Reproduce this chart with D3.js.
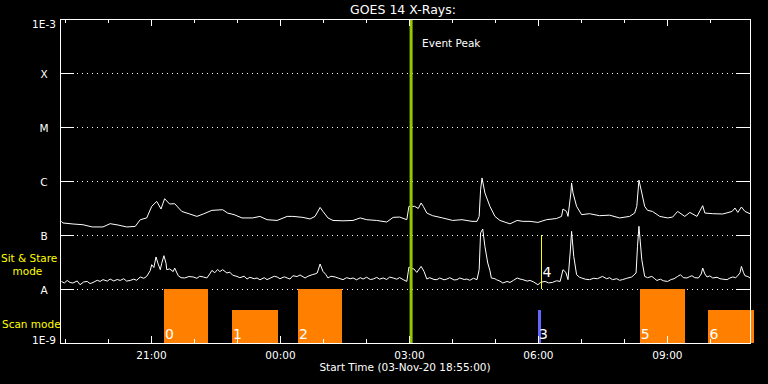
<!DOCTYPE html>
<html>
<head>
<meta charset="utf-8">
<script src="https://cdn.jsdelivr.net/npm/d3@7"></script>
<style>
  html, body { margin: 0; padding: 0; background: #000; }
  svg { display: block; }
</style>
</head>
<body>
<svg id="chart" width="768" height="384"></svg>
<script>
// GOES 14 x-ray flux, times are minutes after the start time (03-Nov-20 18:55)
var startTime = new Date(2020, 10, 3, 18, 55, 0);

// long channel (upper curve)
var upperTimes = [0, 2, 16, 30, 43, 58, 68, 79, 91, 103, 110, 119, 126, 133, 139, 144, 151, 158, 168, 179,
  189, 198, 210, 225, 232, 241, 252, 267, 277, 287, 301, 315, 323, 337, 347, 354, 361, 365, 372, 379,
  393, 407, 417, 426, 440, 454, 463, 472, 482, 485, 493, 498, 502, 505, 510, 518, 532, 546, 559, 573,
  580, 583, 585, 587, 591, 598, 605, 612, 626, 636, 644, 654, 665, 677, 691, 698, 700, 705, 707, 711,
  712, 714, 719, 726, 737, 751, 765, 779, 793, 800, 803, 806, 810, 814, 818, 825, 835, 846, 853, 860,
  870, 877, 887, 895, 898, 909, 923, 936, 940, 944, 949, 954, 961];
var upperFlux = [1.79e-7, 1.67e-7, 1.6e-7, 1.55e-7, 1.41e-7, 1.41e-7, 1.62e-7, 1.53e-7, 1.41e-7, 1.44e-7,
  1.92e-7, 2.07e-7, 3.39e-7, 4.19e-7, 3.03e-7, 4.7e-7, 3.75e-7, 3.8e-7, 2.73e-7, 2.45e-7,
  2.21e-7, 2.45e-7, 2.86e-7, 2.94e-7, 2.55e-7, 2.38e-7, 2.07e-7, 2.07e-7, 2.21e-7, 1.92e-7,
  1.86e-7, 2.21e-7, 2.21e-7, 2.12e-7, 1.98e-7, 2.21e-7, 3.24e-7, 2.73e-7, 2.07e-7, 1.86e-7,
  1.83e-7, 1.86e-7, 2.07e-7, 1.92e-7, 1.86e-7, 1.74e-7, 2.12e-7, 2.15e-7, 1.92e-7, 3.39e-7,
  3.39e-7, 3.1e-7, 3.92e-7, 3.39e-7, 2.55e-7, 2.28e-7, 2.07e-7, 1.86e-7, 1.92e-7, 1.79e-7,
  1.79e-7, 2.21e-7, 6.9e-7, 1.14e-6, 6.0e-7, 3.39e-7, 2.21e-7, 1.86e-7, 1.61e-7, 1.86e-7,
  1.79e-7, 1.79e-7, 1.71e-7, 1.92e-7, 2.02e-7, 2.21e-7, 3.03e-7, 2.73e-7, 2.21e-7, 6.0e-7,
  9.2e-7, 6.0e-7, 3.39e-7, 2.38e-7, 2.48e-7, 2.28e-7, 2.33e-7, 2.07e-7, 2.21e-7, 2.55e-7,
  3.39e-7, 1.04e-6, 6.0e-7, 3.39e-7, 2.86e-7, 2.73e-7, 2.21e-7, 2.07e-7, 2.15e-7, 2.73e-7,
  2.21e-7, 2.62e-7, 2.21e-7, 3.49e-7, 2.55e-7, 2.48e-7, 2.45e-7, 2.73e-7, 3.16e-7, 2.62e-7,
  3.3e-7, 2.73e-7, 2.48e-7];

// short channel (lower curve)
var lowerTimes = [0, 4, 8, 12, 16, 22, 26, 31, 36, 40, 44, 50, 54, 58, 64, 68, 73, 78, 82, 87,
  91, 96, 101, 105, 110, 115, 119, 124, 126, 129, 132, 135, 138, 140, 143, 146, 147, 151, 156, 158,
  163, 167, 172, 178, 184, 189, 193, 198, 203, 207, 210, 214, 218, 221, 225, 231, 235, 239, 245, 249,
  255, 259, 263, 269, 273, 277, 283, 287, 291, 297, 301, 305, 311, 315, 319, 323, 329, 333, 340, 344,
  350, 354, 357, 361, 365, 369, 372, 376, 382, 387, 393, 398, 403, 407, 412, 417, 421, 426, 431, 435,
  440, 444, 449, 454, 458, 463, 468, 472, 477, 482, 485, 489, 492, 496, 502, 506, 510, 514, 520, 524,
  528, 534, 538, 542, 548, 552, 556, 562, 566, 570, 575, 580, 583, 585, 588, 591, 595, 598, 600, 605,
  607, 612, 616, 622, 626, 631, 636, 640, 644, 650, 654, 659, 665, 669, 675, 680, 685, 691, 696, 700,
  704, 707, 710, 712, 715, 719, 723, 726, 731, 737, 743, 748, 755, 761, 765, 769, 775, 779, 783, 789,
  796, 802, 804, 806, 810, 814, 818, 824, 828, 831, 836, 840, 846, 851, 855, 860, 864, 868, 873, 877,
  880, 884, 889, 893, 895, 898, 901, 905, 909, 915, 919, 923, 929, 933, 937, 941, 944, 947, 949, 952,
  954, 958, 961];
var lowerFlux = [1.38e-8, 1.29e-8, 1.44e-8, 1.32e-8, 1.29e-8, 1.41e-8, 1.2e-8, 1.35e-8, 1.38e-8, 1.26e-8,
  1.32e-8, 1.45e-8, 1.38e-8, 1.49e-8, 1.4e-8, 1.53e-8, 1.41e-8, 1.5e-8, 1.44e-8, 1.55e-8,
  1.4e-8, 1.44e-8, 1.52e-8, 1.45e-8, 1.67e-8, 1.58e-8, 1.71e-8, 2.2e-8, 2.82e-8, 2.5e-8,
  3.92e-8, 2.9e-8, 2.28e-8, 3.0e-8, 4.14e-8, 3.0e-8, 2.28e-8, 2.35e-8, 2.1e-8, 2.45e-8,
  1.76e-8, 1.62e-8, 1.6e-8, 1.7e-8, 1.67e-8, 1.58e-8, 1.72e-8, 1.67e-8, 1.6e-8, 1.9e-8,
  2.21e-8, 2.0e-8, 2.3e-8, 2.1e-8, 2.28e-8, 1.98e-8, 2.05e-8, 1.8e-8, 1.71e-8, 1.62e-8,
  1.72e-8, 1.53e-8, 1.65e-8, 1.55e-8, 1.6e-8, 1.48e-8, 1.62e-8, 1.49e-8, 1.58e-8, 1.72e-8,
  1.67e-8, 1.55e-8, 1.68e-8, 1.6e-8, 1.53e-8, 1.76e-8, 1.7e-8, 1.82e-8, 1.6e-8, 1.72e-8,
  1.84e-8, 1.9e-8, 1.98e-8, 2.9e-8, 2.12e-8, 1.85e-8, 1.6e-8, 1.72e-8, 1.67e-8, 1.58e-8,
  1.49e-8, 1.62e-8, 1.55e-8, 1.6e-8, 1.48e-8, 1.62e-8, 1.53e-8, 1.65e-8, 1.5e-8, 1.53e-8,
  1.64e-8, 1.52e-8, 1.6e-8, 1.5e-8, 1.66e-8, 1.6e-8, 1.52e-8, 1.63e-8, 1.49e-8, 1.38e-8,
  2.55e-8, 2.4e-8, 2.35e-8, 2.03e-8, 2.62e-8, 2.12e-8, 1.53e-8, 1.62e-8, 1.5e-8, 1.49e-8,
  1.6e-8, 1.48e-8, 1.53e-8, 1.62e-8, 1.47e-8, 1.49e-8, 1.6e-8, 1.5e-8, 1.53e-8, 1.45e-8,
  1.58e-8, 1.49e-8, 2.28e-8, 1.09e-7, 1.29e-7, 6.15e-8, 3.03e-8, 2.2e-8, 1.6e-8, 1.55e-8,
  1.49e-8, 1.4e-8, 1.29e-8, 1.38e-8, 1.32e-8, 1.45e-8, 1.6e-8, 1.53e-8, 1.49e-8, 1.4e-8,
  1.44e-8, 1.35e-8, 1.2e-8, 1.33e-8, 1.38e-8, 1.3e-8, 1.32e-8, 1.42e-8, 1.38e-8, 2.28e-8,
  2.03e-8, 1.49e-8, 4.64e-8, 1.17e-7, 4.02e-8, 1.84e-8, 1.65e-8, 1.6e-8, 1.52e-8, 1.49e-8,
  1.58e-8, 1.55e-8, 1.71e-8, 1.55e-8, 1.62e-8, 1.49e-8, 1.55e-8, 1.45e-8, 1.49e-8, 1.58e-8,
  1.67e-8, 1.98e-8, 6.15e-8, 1.45e-7, 3.49e-8, 1.71e-8, 1.62e-8, 1.71e-8, 1.55e-8, 1.44e-8,
  1.52e-8, 1.42e-8, 1.38e-8, 1.5e-8, 1.55e-8, 1.71e-8, 1.84e-8, 1.62e-8, 1.6e-8, 1.7e-8,
  1.76e-8, 1.62e-8, 1.6e-8, 1.9e-8, 2.45e-8, 1.9e-8, 1.67e-8, 1.75e-8, 1.6e-8, 1.65e-8,
  1.55e-8, 1.52e-8, 1.49e-8, 1.6e-8, 1.67e-8, 1.62e-8, 1.76e-8, 2.0e-8, 2.62e-8, 2.0e-8,
  1.76e-8, 1.7e-8, 1.6e-8];

// observation blocks
var obsLabels = ['0', '1', '2', '3', '4', '5', '6'];
var obsKind = ['box', 'box', 'box', 'mark', 'line', 'box', 'box'];
var obsStart = [143, 238, 330, 665, 670, 807, 903];
var obsEnd = [205, 302, 391, 669, 670, 870, 966];
var obsLow = [1e-9, 1e-9, 1e-9, 1e-9, 1e-8, 1e-9, 1e-9];
var obsHigh = [1e-8, 4.1e-9, 1e-8, 4.1e-9, 1e-7, 1e-8, 4.1e-9];

var eventPeak = 488;

var yTickValues = [1e-9, 1e-8, 1e-7, 1e-6, 1e-5, 1e-4, 1e-3];
var yTickLabels = ['1E-9', 'A', 'B', 'C', 'M', 'X', '1E-3'];
var gridLevels = [1e-8, 1e-7, 1e-6, 1e-5, 1e-4];

var timeDomain = [-2, 961];

function atMinute(m) {
    return new Date(startTime.getTime() + m * 60000);
}

document.addEventListener('DOMContentLoaded', function () {
    drawChart();
});

function drawChart() {
    const svg = d3.select('#chart');
    const font = 'DejaVu Sans';

    svg.append('rect').attr('width', 768).attr('height', 384).attr('fill', '#000');

    const xScale = d3.scaleTime()
        .domain(timeDomain.map(atMinute))
        .range([60, 750]);
    const yScale = d3.scaleLog()
        .domain([1e-9, 1e-3])
        .range([343, 19]);

    // dotted grid at each flare class
    svg.append('g').selectAll('line')
        .data(gridLevels)
        .join('line')
        .attr('x1', 62).attr('x2', 736)
        .attr('y1', d => Math.round(yScale(d)) + 0.5)
        .attr('y2', d => Math.round(yScale(d)) + 0.5)
        .attr('stroke', '#fff')
        .attr('stroke-dasharray', '1,4')
        .attr('shape-rendering', 'crispEdges');

    const line = d3.line()
        .x(d => xScale(atMinute(d[0])))
        .y(d => yScale(d[1]));

    const upperData = upperTimes.map((t, i) => [t, upperFlux[i]]);
    const lowerData = lowerTimes.map((t, i) => [t, lowerFlux[i]]);

    svg.append('path').datum(upperData)
        .attr('d', line)
        .attr('fill', 'none').attr('stroke', '#fff').attr('stroke-width', 1);
    svg.append('path').datum(lowerData)
        .attr('d', line)
        .attr('fill', 'none').attr('stroke', '#fff').attr('stroke-width', 1);

    // observation blocks
    const obs = obsLabels.map((l, i) => ({
        label: l, kind: obsKind[i], start: obsStart[i], end: obsEnd[i], lo: obsLow[i], hi: obsHigh[i]
    }));
    const colors = { box: '#ff8000', mark: '#6464ff', line: '#ffff00' };

    svg.append('g').selectAll('rect')
        .data(obs.filter(d => d.kind !== 'line'))
        .join('rect')
        .attr('x', d => xScale(atMinute(d.start)))
        .attr('width', d => xScale(atMinute(d.end)) - xScale(atMinute(d.start)))
        .attr('y', d => yScale(d.hi))
        .attr('height', d => yScale(d.lo) - yScale(d.hi))
        .attr('fill', d => colors[d.kind])
        .attr('shape-rendering', 'crispEdges');

    svg.append('g').selectAll('line')
        .data(obs.filter(d => d.kind === 'line'))
        .join('line')
        .attr('x1', d => Math.round(xScale(atMinute(d.start))) + 0.5)
        .attr('x2', d => Math.round(xScale(atMinute(d.start))) + 0.5)
        .attr('y1', d => yScale(d.hi))
        .attr('y2', d => yScale(d.lo))
        .attr('stroke', d => colors[d.kind])
        .attr('shape-rendering', 'crispEdges');

    svg.append('g').selectAll('text')
        .data(obs)
        .join('text')
        .attr('x', d => xScale(atMinute(d.start)) + 1)
        .attr('y', d => d.kind === 'line' ? yScale(d.lo) - 12 : yScale(d.lo) - 4)
        .attr('fill', '#fff')
        .attr('font-family', font)
        .attr('font-size', 14)
        .text(d => d.label);

    // event peak marker
    svg.append('line')
        .attr('x1', xScale(atMinute(eventPeak))).attr('x2', xScale(atMinute(eventPeak)))
        .attr('y1', 19).attr('y2', 343)
        .attr('stroke', '#96c800')
        .attr('stroke-width', 3);
    svg.append('text')
        .attr('x', xScale(atMinute(eventPeak)) + 11)
        .attr('y', 46.5)
        .attr('fill', '#fff')
        .attr('font-family', font)
        .attr('font-size', 10.5)
        .text('Event Peak');

    // axes
    const hourly = d3.timeHour.every(1);
    const threeHourly = d3.timeHour.every(3);

    const styleAxis = g => {
        g.select('.domain').remove();
        g.selectAll('line').attr('stroke', '#fff').attr('shape-rendering', 'crispEdges');
    };

    svg.append('g').attr('transform', 'translate(0,343)')
        .call(d3.axisBottom(xScale).ticks(hourly).tickSize(-4).tickFormat(''))
        .call(styleAxis);
    const bottomMajor = svg.append('g').attr('transform', 'translate(0,343)')
        .call(d3.axisBottom(xScale).ticks(threeHourly).tickSize(-7).tickFormat(d3.timeFormat('%H:%M')))
        .call(styleAxis);
    bottomMajor.selectAll('text')
        .attr('y', 16).attr('dy', 0)
        .attr('fill', '#fff')
        .attr('font-family', font)
        .attr('font-size', 10.5);

    svg.append('g').attr('transform', 'translate(0,19)')
        .call(d3.axisTop(xScale).ticks(hourly).tickSize(-4).tickFormat(''))
        .call(styleAxis);
    svg.append('g').attr('transform', 'translate(0,19)')
        .call(d3.axisTop(xScale).ticks(threeHourly).tickSize(-7).tickFormat(''))
        .call(styleAxis);

    const leftAxis = svg.append('g').attr('transform', 'translate(60,0)')
        .call(d3.axisLeft(yScale).tickValues(yTickValues).tickSize(-14)
            .tickFormat((d, i) => yTickLabels[i]))
        .call(styleAxis);
    leftAxis.selectAll('text')
        .attr('x', -16)
        .attr('dy', (d, i) => i === yTickValues.length - 1 ? 8 : (i === 0 ? 0 : 4.5))
        .attr('text-anchor', 'middle')
        .attr('fill', '#fff')
        .attr('font-family', font)
        .attr('font-size', 10.5);

    svg.append('g').attr('transform', 'translate(750,0)')
        .call(d3.axisRight(yScale).tickValues(yTickValues).tickSize(-14).tickFormat(''))
        .call(styleAxis);

    // frame
    svg.append('rect')
        .attr('x', 60.5).attr('y', 19.5)
        .attr('width', 690).attr('height', 324)
        .attr('fill', 'none').attr('stroke', '#fff')
        .attr('shape-rendering', 'crispEdges');

    // titles
    svg.append('text')
        .attr('x', 403).attr('y', 14)
        .attr('text-anchor', 'middle')
        .attr('fill', '#fff')
        .attr('font-family', font)
        .attr('font-size', 12.5)
        .text('GOES 14 X-Rays:');
    svg.append('text')
        .attr('x', 405).attr('y', 371)
        .attr('text-anchor', 'middle')
        .attr('fill', '#fff')
        .attr('font-family', font)
        .attr('font-size', 10.5)
        .text('Start Time (03-Nov-20 18:55:00)');

    // mode labels on the left
    const modeText = [['Sit & Stare', 1, 262], ['mode', 12.5, 275], ['Scan mode', 2, 328]];
    svg.append('g').selectAll('text')
        .data(modeText)
        .join('text')
        .attr('x', d => d[1]).attr('y', d => d[2])
        .attr('fill', '#ffff00')
        .attr('font-family', font)
        .attr('font-size', 10.5)
        .text(d => d[0]);
}
</script>
</body>
</html>
